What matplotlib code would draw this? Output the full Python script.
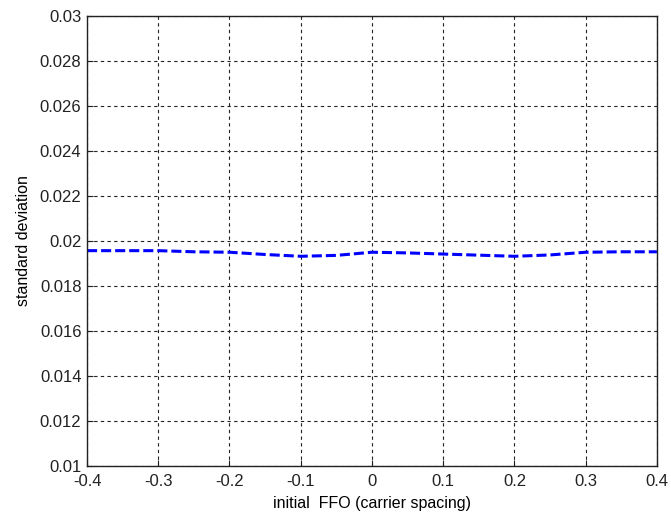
import matplotlib
matplotlib.use('Agg')
import matplotlib.pyplot as plt

# initial FFO (carrier spacing) vs standard deviation
ffo = [-0.4, -0.35, -0.3, -0.25, -0.2, -0.15, -0.1, -0.05, 0.0,
       0.05, 0.1, 0.15, 0.2, 0.25, 0.3, 0.35, 0.4]
std_dev = [0.01957, 0.01957, 0.01957, 0.01952, 0.01950, 0.01940, 0.01932, 0.01936, 0.01950,
           0.01947, 0.01942, 0.01937, 0.01932, 0.01938, 0.01950, 0.01952, 0.01952]

xticks = [-0.4, -0.3, -0.2, -0.1, 0, 0.1, 0.2, 0.3, 0.4]
xtick_labels = ['-0.4', '-0.3', '-0.2', '-0.1', '0', '0.1', '0.2', '0.3', '0.4']
yticks = [0.01, 0.012, 0.014, 0.016, 0.018, 0.02, 0.022, 0.024, 0.026, 0.028, 0.03]
ytick_labels = ['0.01', '0.012', '0.014', '0.016', '0.018', '0.02', '0.022', '0.024', '0.026', '0.028', '0.03']

plt.rcParams['font.family'] = ['Liberation Sans', 'DejaVu Sans']

fig = plt.figure(figsize=(6.71, 5.24), dpi=100)
ax = fig.add_axes([0.1297, 0.1107, 0.8493, 0.8588])

ax.plot(ffo, std_dev, color='#0000ff', linestyle=(0, (3.3, 1.3)), linewidth=2.2)

ax.set_xlim(-0.4, 0.4)
ax.set_ylim(0.01, 0.03)
ax.set_xticks(xticks)
ax.set_xticklabels(xtick_labels)
ax.set_yticks(yticks)
ax.set_yticklabels(ytick_labels)
ax.tick_params(direction='in', length=4, labelsize=12, colors='#222222')
ax.tick_params(axis='x', pad=6)
ax.tick_params(axis='y', pad=4)
ax.grid(True, color='#222222', linestyle=(0, (3, 3)), linewidth=0.8)
for s in ax.spines.values():
    s.set_linewidth(1.0)
    s.set_color('#222222')

ax.set_xlabel('initial  FFO (carrier spacing)', fontsize=11.5, labelpad=5)
ax.set_ylabel('standard deviation', fontsize=11.5, labelpad=6)

fig.savefig('out.png', dpi=100)
